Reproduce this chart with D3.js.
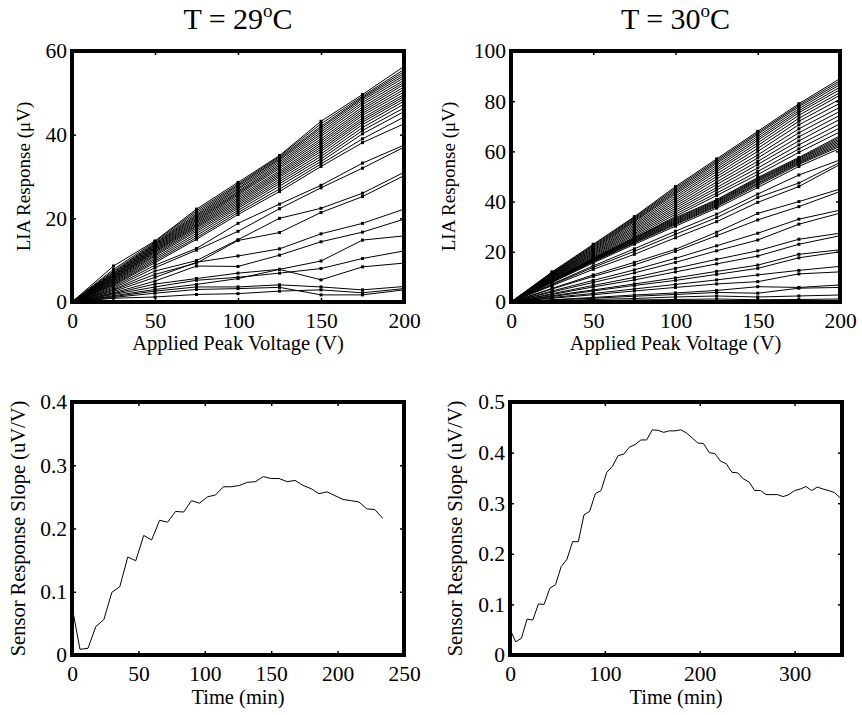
<!DOCTYPE html>
<html>
<head>
<meta charset="utf-8">
<script src="https://cdn.jsdelivr.net/npm/d3@7"></script>
<style>
  body { margin: 0; background: #fff; }
  svg { display: block; }
</style>
</head>
<body>
<div id="chart"></div>
<script>
// applied peak voltage (V) for the LIA sweeps
const voltage = [0, 25, 50, 75, 100, 125, 150, 175, 200];

// LIA response (uV), one row per sweep, T = 29 C
const lia29 = [
    [0, 8.6, 14.6, 22.2, 28.6, 35.0, 43.2, 49.6, 56.3],
    [0, 7.8, 14.4, 21.8, 28.2, 34.8, 42.6, 49.2, 55.6],
    [0, 7.4, 14.1, 21.4, 27.9, 34.5, 42.0, 48.9, 55.1],
    [0, 7.1, 13.9, 21.0, 27.6, 34.2, 41.6, 48.6, 54.6],
    [0, 6.9, 13.7, 20.7, 27.2, 33.9, 41.1, 48.2, 54.1],
    [0, 6.7, 13.5, 20.4, 26.9, 33.5, 40.6, 47.7, 53.6],
    [0, 6.5, 13.3, 20.1, 26.5, 33.1, 40.1, 47.2, 53.0],
    [0, 6.3, 13.1, 19.8, 26.2, 32.7, 39.6, 46.6, 52.5],
    [0, 6.2, 12.9, 19.5, 25.9, 32.3, 39.0, 46.1, 52.0],
    [0, 6.0, 12.7, 19.2, 25.6, 31.9, 38.5, 45.6, 51.4],
    [0, 5.8, 12.5, 18.9, 25.2, 31.4, 38.0, 45.1, 50.8],
    [0, 5.6, 12.3, 18.6, 24.8, 31.0, 37.5, 44.6, 50.2],
    [0, 5.5, 12.1, 18.3, 24.4, 30.6, 37.0, 44.0, 49.6],
    [0, 5.3, 11.9, 18.0, 24.0, 30.2, 36.5, 43.5, 49.1],
    [0, 5.1, 11.6, 17.7, 23.6, 29.8, 36.0, 43.0, 48.6],
    [0, 4.9, 11.3, 17.3, 23.2, 29.3, 35.4, 42.4, 48.0],
    [0, 4.7, 11.0, 16.9, 22.8, 28.8, 34.8, 41.7, 47.3],
    [0, 4.5, 10.6, 16.4, 22.4, 28.3, 34.2, 41.0, 46.4],
    [0, 4.3, 10.2, 15.9, 21.9, 27.7, 33.6, 40.2, 45.5],
    [0, 4.1, 9.8, 15.4, 21.4, 27.0, 33.0, 39.0, 44.2],
    [0, 3.9, 9.4, 15.0, 20.9, 26.4, 32.4, 38.1, 42.6],
    [0, 3.6, 8.8, 12.8, 18.8, 23.4, 27.9, 33.2, 37.5],
    [0, 3.3, 8.2, 12.4, 16.9, 22.3, 27.3, 32.0, 37.0],
    [0, 3.0, 7.4, 9.9, 14.9, 20.0, 22.4, 26.0, 31.0],
    [0, 2.8, 6.6, 9.3, 14.7, 16.6, 21.4, 25.2, 30.2],
    [0, 2.5, 5.9, 9.5, 11.0, 12.7, 16.3, 18.8, 22.2],
    [0, 2.2, 5.0, 8.6, 8.5, 11.2, 14.4, 16.7, 19.8],
    [0, 2.0, 4.3, 5.6, 6.9, 7.8, 9.8, 14.8, 15.8],
    [0, 1.8, 3.6, 5.2, 5.9, 6.9, 8.0, 10.4, 12.2],
    [0, 1.5, 3.0, 4.2, 5.6, 7.8, 5.3, 8.4, 9.3],
    [0, 1.3, 2.6, 3.6, 3.6, 4.1, 3.6, 2.9, 3.7],
    [0, 1.1, 2.1, 3.0, 3.2, 3.5, 1.7, 1.7, 2.9],
    [0, 0.9, 1.2, 1.8, 2.0, 2.6, 2.9, 2.2, 3.2]
];

// LIA response (uV), one row per sweep, T = 30 C
const lia30 = [
    [0, 12.0, 23.0, 34.0, 46.0, 57.0, 68.0, 79.0, 89.0],
    [0, 11.8, 22.6, 33.6, 45.4, 56.4, 67.4, 78.4, 88.2],
    [0, 11.6, 22.2, 33.2, 44.8, 55.8, 66.8, 77.8, 87.4],
    [0, 11.4, 21.8, 32.8, 44.2, 55.2, 66.0, 77.0, 86.6],
    [0, 11.2, 21.4, 32.4, 43.6, 54.4, 65.2, 76.2, 85.6],
    [0, 11.0, 21.0, 32.0, 43.0, 53.6, 64.4, 75.4, 84.6],
    [0, 10.8, 20.6, 31.4, 42.2, 52.8, 63.4, 74.4, 83.4],
    [0, 10.6, 20.2, 30.8, 41.4, 52.0, 62.4, 73.2, 82.4],
    [0, 10.4, 19.8, 30.2, 40.6, 51.0, 61.2, 72.0, 80.8],
    [0, 10.2, 19.4, 29.6, 39.8, 50.0, 60.0, 70.6, 79.2],
    [0, 10.0, 19.0, 29.0, 39.0, 49.0, 58.6, 69.0, 77.6],
    [0, 9.8, 18.6, 28.4, 38.2, 47.8, 57.4, 67.4, 76.0],
    [0, 9.6, 18.2, 27.8, 37.4, 46.8, 56.0, 65.8, 74.4],
    [0, 9.4, 17.8, 27.2, 36.6, 45.6, 54.8, 64.2, 72.8],
    [0, 9.2, 17.4, 26.6, 35.8, 44.6, 53.4, 62.6, 71.0],
    [0, 9.0, 17.0, 26.0, 35.0, 43.4, 52.0, 61.0, 69.4],
    [0, 8.8, 16.6, 25.4, 34.2, 42.4, 50.8, 59.6, 67.8],
    [0, 8.6, 17.4, 25.6, 33.6, 40.8, 49.6, 57.6, 66.2],
    [0, 8.5, 17.2, 25.3, 33.2, 40.4, 49.2, 57.2, 65.6],
    [0, 8.4, 17.0, 25.0, 32.8, 40.0, 48.8, 56.8, 65.0],
    [0, 8.3, 16.8, 24.7, 32.4, 39.6, 48.4, 56.4, 64.4],
    [0, 8.2, 16.6, 24.4, 32.0, 39.2, 48.0, 56.0, 63.8],
    [0, 8.1, 16.4, 24.1, 31.6, 38.8, 47.4, 55.6, 63.2],
    [0, 8.0, 16.2, 23.8, 31.2, 38.4, 47.0, 55.2, 62.6],
    [0, 7.9, 16.0, 23.5, 30.8, 38.0, 46.4, 54.8, 62.0],
    [0, 7.8, 15.6, 23.0, 30.2, 37.4, 45.6, 54.0, 61.2],
    [0, 7.2, 14.4, 21.2, 28.2, 35.0, 43.0, 50.6, 56.6],
    [0, 6.9, 13.8, 20.2, 27.0, 33.6, 41.6, 47.4, 55.6],
    [0, 6.5, 13.0, 19.0, 25.6, 32.0, 39.7, 46.0, 54.8],
    [0, 5.4, 10.8, 15.8, 21.0, 27.8, 35.3, 40.0, 45.0],
    [0, 5.2, 10.2, 14.8, 20.2, 26.4, 32.7, 38.0, 44.0],
    [0, 4.4, 8.6, 12.8, 17.4, 22.4, 27.4, 33.0, 36.6],
    [0, 4.0, 7.8, 11.6, 15.8, 20.4, 24.7, 31.0, 35.4],
    [0, 3.3, 6.6, 9.8, 13.4, 17.0, 20.4, 25.0, 27.4],
    [0, 3.0, 6.0, 8.8, 12.0, 15.2, 18.3, 23.0, 26.4],
    [0, 2.5, 4.8, 7.2, 9.6, 12.2, 14.7, 19.0, 20.8],
    [0, 2.2, 4.4, 6.6, 8.6, 11.0, 13.4, 17.6, 20.0],
    [0, 1.8, 3.4, 5.2, 7.0, 8.8, 10.8, 12.6, 14.2],
    [0, 1.5, 2.9, 4.4, 5.8, 7.2, 8.1, 11.2, 12.0],
    [0, 0.9, 1.8, 2.8, 3.6, 4.6, 6.1, 5.8, 6.8],
    [0, 0.8, 1.5, 2.3, 3.0, 3.8, 3.5, 5.5, 5.8],
    [0, 0.5, 1.0, 1.4, 2.0, 2.4, 2.0, 2.4, 2.8],
    [0, 0.3, 0.5, 0.8, 1.0, 1.2, 0.9, 1.0, 1.2]
];

// sensor response slope vs time, T = 29 C
const time29 = [0, 6, 12, 18, 24, 30, 36, 42, 48, 54, 60, 66, 72, 78, 84, 90, 96, 102, 108, 114,
                120, 126, 132, 138, 144, 150, 156, 162, 168, 174, 180, 186, 192, 198, 204, 210, 216, 222, 228, 234];
const slope29 = [0.077, 0.009, 0.0105, 0.045, 0.056, 0.099, 0.108, 0.155, 0.149, 0.189,
                 0.182, 0.213, 0.210, 0.227, 0.226, 0.244, 0.240, 0.250, 0.253, 0.266,
                 0.266, 0.268, 0.273, 0.274, 0.282, 0.279, 0.279, 0.274, 0.276, 0.268,
                 0.263, 0.255, 0.258, 0.252, 0.246, 0.244, 0.242, 0.231, 0.230, 0.216];

// sensor response slope vs time, T = 30 C
const time30 = [0, 6, 12, 18, 24, 30, 36, 42, 48, 54, 60, 66, 72, 78, 84, 90, 96, 102, 108, 114,
                120, 126, 132, 138, 144, 150, 156, 162, 168, 174, 180, 186, 192, 198, 204, 210, 216, 222, 228, 234,
                240, 246, 252, 258, 264, 270, 276, 282, 288, 294, 300, 306, 312, 318, 324, 330, 336, 342, 348];
const slope30 = [0.051, 0.026, 0.033, 0.071, 0.069, 0.101, 0.100, 0.132, 0.139, 0.175,
                 0.189, 0.224, 0.224, 0.277, 0.284, 0.319, 0.325, 0.361, 0.373, 0.394,
                 0.397, 0.411, 0.416, 0.425, 0.425, 0.445, 0.444, 0.440, 0.443, 0.443,
                 0.445, 0.439, 0.429, 0.419, 0.418, 0.400, 0.398, 0.383, 0.378, 0.361,
                 0.360, 0.348, 0.342, 0.325, 0.325, 0.317, 0.317, 0.317, 0.313, 0.317,
                 0.325, 0.328, 0.333, 0.325, 0.332, 0.328, 0.325, 0.321, 0.311];

// tick values
const voltTicks = [0, 50, 100, 150, 200];
const lia29Ticks = [0, 20, 40, 60];
const lia30Ticks = [0, 20, 40, 60, 80, 100];
const time29Ticks = [0, 50, 100, 150, 200, 250];
const time30Ticks = [0, 100, 200, 300];
const slope29Ticks = [0, 0.1, 0.2, 0.3, 0.4];
const slope30Ticks = [0, 0.1, 0.2, 0.3, 0.4, 0.5];

const FONT = '"Liberation Serif", "Times New Roman", serif';
const tickFont = 21.5;

const svg = d3.select('#chart').append('svg')
    .attr('width', 862)
    .attr('height', 715)
    .style('font-family', FONT);

const fmtSlope = (d) => d === 0 ? '0' : d3.format('.1f')(d);

function panel(box, xDomain, yDomain, xTicks, yTicks, yFormat) {
    const x = d3.scaleLinear().domain(xDomain).range([box.left, box.right]);
    const y = d3.scaleLinear().domain(yDomain).range([box.bottom, box.top]);
    const w = box.right - box.left, h = box.bottom - box.top;

    const gx = svg.append('g')
        .attr('transform', `translate(0, ${box.bottom})`)
        .call(d3.axisBottom(x).tickValues(xTicks).tickSizeInner(-4).tickSizeOuter(0).tickPadding(11).tickFormat(d3.format('d')));
    svg.append('g')
        .attr('transform', `translate(0, ${box.top})`)
        .call(d3.axisTop(x).tickValues(xTicks).tickSizeInner(-4).tickSizeOuter(0).tickFormat(''));
    const gy = svg.append('g')
        .attr('transform', `translate(${box.left}, 0)`)
        .call(d3.axisLeft(y).tickValues(yTicks).tickSizeInner(-4).tickSizeOuter(0).tickPadding(5).tickFormat(yFormat));
    svg.append('g')
        .attr('transform', `translate(${box.right}, 0)`)
        .call(d3.axisRight(y).tickValues(yTicks).tickSizeInner(-4).tickSizeOuter(0).tickFormat(''));

    svg.selectAll('.domain').attr('stroke', 'none');
    svg.selectAll('.tick line').attr('stroke', '#000').attr('stroke-width', 1.5);
    [gx, gy].forEach(g => g.attr('font-family', FONT).attr('font-size', tickFont)
        .selectAll('text')
        .attr('fill', '#000'));

    const plot = svg.append('g');
    return { x, y, plot, box, w, h };
}

function frame(p) {
    svg.append('rect')
        .attr('x', p.box.left)
        .attr('y', p.box.top)
        .attr('width', p.w)
        .attr('height', p.h)
        .attr('fill', 'none')
        .attr('stroke', '#000')
        .attr('stroke-width', 4);
}

function labels(p, xLabel, xBase, xSize, yLabel, yBase, ySize) {
    svg.append('text')
        .attr('x', (p.box.left + p.box.right) / 2)
        .attr('y', xBase)
        .attr('text-anchor', 'middle')
        .attr('font-size', xSize)
        .text(xLabel);
    svg.append('text')
        .attr('transform', `translate(${yBase}, ${(p.box.top + p.box.bottom) / 2}) rotate(-90)`)
        .attr('text-anchor', 'middle')
        .attr('font-size', ySize)
        .text(yLabel);
}

function title(p, temp) {
    const t = svg.append('text')
        .attr('x', (p.box.left + p.box.right) / 2)
        .attr('y', 29)
        .attr('text-anchor', 'middle')
        .attr('font-size', 30);
    t.append('tspan').text(`T = ${temp}`);
    t.append('tspan').attr('dy', -12).attr('font-size', 19).text('o');
    t.append('tspan').attr('dy', 12).text('C');
}

function sweeps(p, rows) {
    const line = d3.line().x((d, i) => p.x(voltage[i])).y(d => p.y(d));
    p.plot.selectAll('path.sweep')
        .data(rows)
        .join('path')
        .attr('class', 'sweep')
        .attr('d', line)
        .attr('fill', 'none')
        .attr('stroke', '#000')
        .attr('stroke-width', 1);
    const pts = rows.flatMap(r => r.map((v, i) => [voltage[i], v]));
    p.plot.selectAll('rect.dot')
        .data(pts)
        .join('rect')
        .attr('class', 'dot')
        .attr('x', d => p.x(d[0]) - 1.5)
        .attr('y', d => p.y(d[1]) - 1.5)
        .attr('width', 3)
        .attr('height', 3)
        .attr('fill', '#000');
}

function trace(p, xs, ys) {
    const line = d3.line().x((d, i) => p.x(xs[i])).y(d => p.y(d));
    p.plot.append('path')
        .datum(ys)
        .attr('d', line)
        .attr('fill', 'none')
        .attr('stroke', '#000')
        .attr('stroke-width', 1);
}

// top left: T = 29
const p1 = panel({ left: 72, right: 404, top: 51, bottom: 302 }, [0, 200], [0, 60], voltTicks, lia29Ticks, d3.format('d'));
sweeps(p1, lia29);
frame(p1);
labels(p1, 'Applied Peak Voltage (V)', 350, 20.5, 'LIA Response (\u03bcV)', 30, 19);
title(p1, 29);

// top right: T = 30
const p2 = panel({ left: 511, right: 840, top: 51, bottom: 302 }, [0, 200], [0, 100], voltTicks, lia30Ticks, d3.format('d'));
sweeps(p2, lia30);
frame(p2);
labels(p2, 'Applied Peak Voltage (V)', 350, 20.5, 'LIA Response (\u03bcV)', 455, 19);
title(p2, 30);

// bottom left
const p3 = panel({ left: 72, right: 404, top: 402, bottom: 655 }, [0, 250], [0, 0.4], time29Ticks, slope29Ticks, fmtSlope);
trace(p3, time29, slope29);
frame(p3);
labels(p3, 'Time (min)', 704, 20.5, 'Sensor Response Slope (uV/V)', 25, 20.5);

// bottom right
const p4 = panel({ left: 510, right: 842, top: 402, bottom: 655 }, [0, 350], [0, 0.5], time30Ticks, slope30Ticks, fmtSlope);
trace(p4, time30, slope30);
frame(p4);
labels(p4, 'Time (min)', 704, 20.5, 'Sensor Response Slope (uV/V)', 462, 20.5);
</script>
</body>
</html>
